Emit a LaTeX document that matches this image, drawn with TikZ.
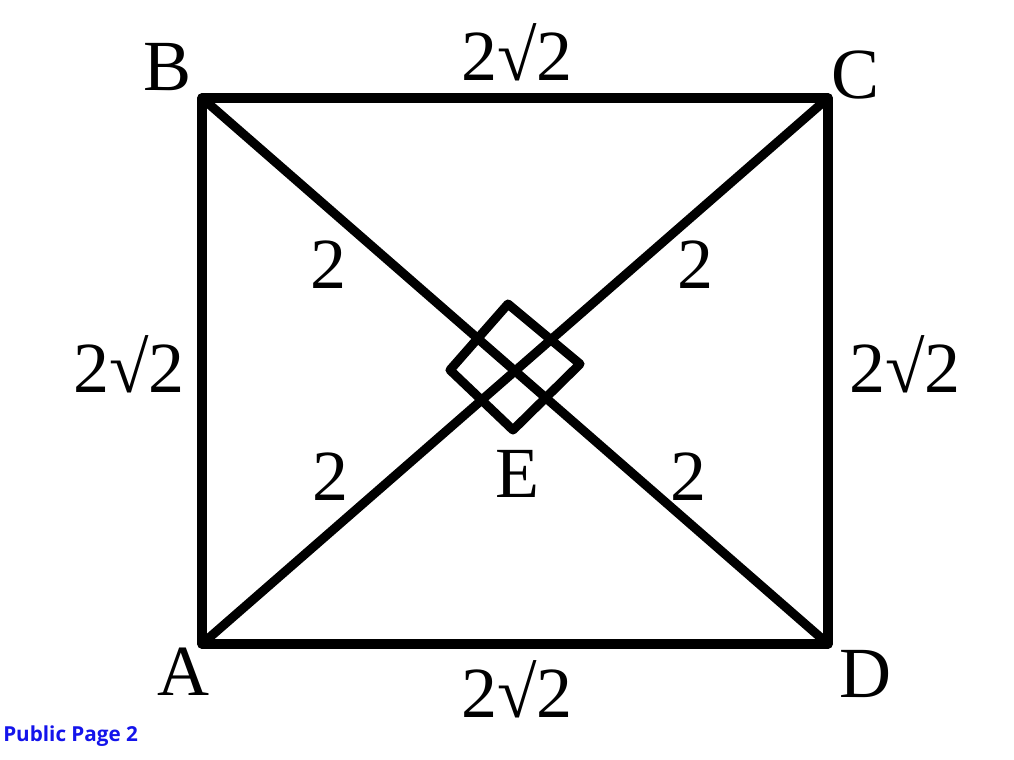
\documentclass[tikz,border=0pt]{standalone}
\usepackage{fontspec}
\setmainfont{Liberation Serif}
\newfontfamily\pubfont{Open Sans}
\definecolor{pubblue}{RGB}{20,20,235}
\begin{document}
\begin{tikzpicture}[x=0.75pt,y=-0.75pt,
  edge/.style={line width=6.8pt,line cap=round,line join=round},
  lbl/.style={font=\fontsize{54}{60}\selectfont,inner sep=0pt,anchor=base},
  pub/.style={font=\pubfont\bfseries\fontsize{15.5}{18}\selectfont,text=pubblue,inner sep=0pt,anchor=base west}]
\fill[white] (0,0) rectangle (1014,760);
\useasboundingbox (0,0) rectangle (1014,760);
\coordinate (A) at (202,644);
\coordinate (B) at (202,98);
\coordinate (C) at (828,98);
\coordinate (D) at (828,644);
\coordinate (E) at (515,371);
\draw[edge] (A) -- (B) -- (C) -- (D) -- cycle;
\draw[edge] (B) -- (D);
\draw[edge] (A) -- (C);
\draw[edge] (508,304) -- (580,364) -- (513,430) -- (450,370) -- cycle;
\node[lbl] (lA) at (183,695) {A};
\node[lbl] (lB) at (168,90) {B};
\node[lbl] (lC) at (856,98) {C};
\node[lbl] (lD) at (865,697) {D};
\node[lbl] (lE) at (517,497) {E};
\node[lbl] (top) at (517,80) {2√2};
\node[lbl] (bot) at (517,717) {2√2};
\node[lbl] (left) at (129,392) {2√2};
\node[lbl] (right) at (905,392) {2√2};
\node[lbl] (eb) at (328,288) {2};
\node[lbl] (ec) at (695,288) {2};
\node[lbl] (ea) at (330,500) {2};
\node[lbl] (ed) at (688,500) {2};
\node[pub] (pg) at (3,741) {Public Page 2};
\end{tikzpicture}
\end{document}
